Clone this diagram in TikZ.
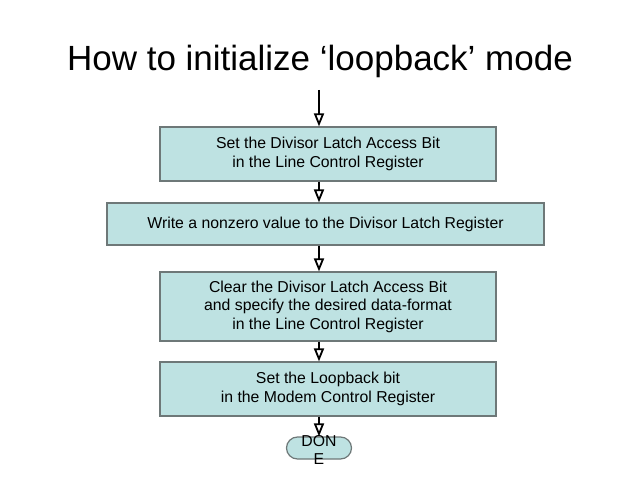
\documentclass[tikz,border=0pt]{standalone}
\usepackage{fontspec}
\setmainfont{Liberation Sans}
\usetikzlibrary{arrows.meta,shapes.misc}

\definecolor{boxfill}{RGB}{190,226,226}
\definecolor{boxline}{RGB}{110,120,120}

\tikzset{
  stepbox/.style={draw=boxline, fill=boxfill, line width=1.2pt, align=center,
    font=\fontsize{15.8}{18.5}\selectfont, inner sep=0pt},
  flow/.style={line width=1.6pt, -{Triangle[open, length=13pt, width=10pt, line width=1.8pt]}},
}

\begin{document}
\begin{tikzpicture}[x=1pt, y=1pt]

    % Cadre de la page (640 x 480)
    \useasboundingbox (0,0) rectangle (640,480);

    % Titre
    \node[anchor=base] (title) at (320,409) {\fontsize{35}{40}\selectfont How to initialize ‘loopback’ mode};

    % Point de départ et axe des flèches
    \coordinate (start) at (319,390);

    % Étapes
    \node[stepbox, minimum width=336pt, minimum height=54pt] (latch) at (328,326)
        {Set the Divisor Latch Access Bit\\in the Line Control Register};
    \node[stepbox, minimum width=437pt, minimum height=42pt] (value) at (325.5,256)
        {Write a nonzero value to the Divisor Latch Register};
    \node[stepbox, minimum width=336pt, minimum height=69pt] (clear) at (328,173.5)
        {Clear the Divisor Latch Access Bit\\and specify the desired data-format\\in the Line Control Register};
    \node[stepbox, minimum width=336pt, minimum height=54pt] (loop) at (328,91)
        {Set the Loopback bit\\in the Modem Control Register};

    % Fin
    \node[draw=boxline, fill=boxfill, line width=1.2pt, rounded rectangle,
          minimum width=65pt, minimum height=22pt, inner sep=0pt] (done) at (319,32) {};
    \node[font=\fontsize{15.8}{18.5}\selectfont, align=center] (donetxt) at (319,30) {DON\\E};

    % Flèches
    \draw[flow] (start) -- (latch.north -| start);
    \draw[flow] (latch.south -| start) -- (value.north -| start);
    \draw[flow] (value.south -| start) -- (clear.north -| start);
    \draw[flow] (clear.south -| start) -- (loop.north -| start);
    \draw[flow] (loop.south -| start) -- (done.north -| start);

\end{tikzpicture}
\end{document}
